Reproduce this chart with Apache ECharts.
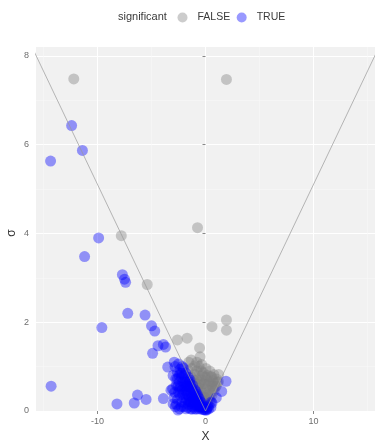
<!DOCTYPE html>
<html>
<head>
<meta charset="utf-8">
<script src="https://cdn.jsdelivr.net/npm/echarts@6/dist/echarts.min.js"></script>
<style>
html,body{margin:0;padding:0;background:#fff;}
#chart{width:375px;height:444px;}
</style>
</head>
<body>
<div id="chart"></div>
<script>
// ---- data ----
const categories = ['FALSE', 'TRUE'];
const xTicks = [-10, 0, 10];
const xMinorTicks = [-15, -5, 5, 15];
const yTicks = [0, 2, 4, 6, 8];
const yMinorTicks = [1, 3, 5, 7];
const threshold = 1.96;

// FALSE (not significant) points: [X, sigma]
const falsePoints = [
  [-12.2,7.48],[1.94,7.47],[-0.74,4.13],[-7.8,3.95],[-5.4,2.85],
  [-2.6,1.6],[-1.7,1.64],[0.6,1.9],[1.94,2.05],[1.94,1.82],[-0.55,1.42],[-0.5,1.22],
  [-1.6,0.92],[-1.55,1.1],
  [-1.3,0.76],[-1.28,0.96],[-1.32,1.15],
  [-1.0,0.62],[-1.02,0.82],[-0.98,1.02],
  [-0.8,0.5],[-0.78,0.7],[-0.82,0.9],[-0.8,1.1],
  [-0.6,0.4],[-0.62,0.6],[-0.58,0.8],[-0.6,1.0],
  [-0.4,0.3],[-0.42,0.5],[-0.38,0.7],[-0.4,0.9],[-0.36,1.05],
  [-0.2,0.2],[-0.22,0.4],[-0.18,0.62],[-0.2,0.86],
  [0.0,0.1],[0.02,0.3],[-0.02,0.5],[0.0,0.76],[0.04,0.96],
  [0.2,0.16],[0.22,0.36],[0.18,0.56],[0.2,0.8],
  [0.4,0.26],[0.42,0.46],[0.38,0.66],[0.4,0.9],
  [0.6,0.36],[0.62,0.56],[0.58,0.76],
  [0.8,0.46],[0.82,0.62],[0.78,0.82],
  [1.0,0.56],[1.02,0.72],
  [1.2,0.66],[1.22,0.82],
  [-1.15,0.7],[-0.9,0.6],[-0.7,0.55],[-0.5,0.45],[-0.3,0.35],[-0.1,0.3],
  [0.1,0.25],[0.3,0.3],[0.5,0.4],[0.7,0.5],[0.9,0.55],[1.1,0.65],
  [-0.5,0.65],[-0.1,0.6],[0.3,0.6],[0.7,0.68],[-0.3,0.8],[0.1,0.7],[0.5,0.78]
];

// TRUE (significant) points: [X, sigma]
const truePoints = [
  [-12.4,6.43],[-11.4,5.87],[-14.35,5.63],[-9.9,3.9],[-11.2,3.48],
  [-7.7,3.07],[-7.5,2.97],[-7.4,2.9],[-9.6,1.88],[-7.2,2.2],
  [-5.6,2.16],[-5.0,1.92],[-4.7,1.8],[-4.4,1.47],[-3.9,1.5],[-3.7,1.44],
  [-4.9,1.3],[-3.5,0.99],[-2.9,1.1],[-14.3,0.56],[-8.2,0.16],[-6.6,0.18],
  [-6.3,0.36],[-5.5,0.26],[-3.9,0.28],[-3.2,0.47],
  [1.9,0.67],[1.5,0.44],[1.0,0.3],[0.6,0.18],
  [-3.0,0.16],[-3.05,0.5],[-3.0,0.8],
  [-2.8,0.1],[-2.85,0.42],[-2.75,0.72],[-2.82,1.0],
  [-2.6,0.26],[-2.55,0.56],[-2.62,0.88],[-2.5,1.06],
  [-2.4,0.05],[-2.38,0.36],[-2.42,0.66],[-2.35,0.94],
  [-2.2,0.2],[-2.18,0.47],[-2.22,0.76],[-2.15,1.0],
  [-2.0,0.1],[-1.98,0.3],[-2.02,0.56],[-1.96,0.8],[-2.05,0.97],
  [-1.8,0.05],[-1.78,0.26],[-1.82,0.46],[-1.76,0.66],[-1.84,0.86],
  [-1.6,0.15],[-1.62,0.36],[-1.58,0.56],[-1.6,0.76],
  [-1.4,0.05],[-1.42,0.21],[-1.38,0.41],[-1.4,0.6],[-1.44,0.7],
  [-1.2,0.1],[-1.22,0.3],[-1.18,0.45],[-1.2,0.58],
  [-1.0,0.05],[-1.02,0.2],[-0.98,0.35],[-1.0,0.48],
  [-0.8,0.1],[-0.82,0.25],[-0.78,0.38],
  [-0.6,0.05],[-0.62,0.16],[-0.58,0.28],
  [-0.4,0.04],[-0.42,0.12],[-0.38,0.19],
  [-0.2,0.03],[-0.22,0.08],
  [0.1,0.02],[0.12,0.04],[0.3,0.05],[0.28,0.12],[0.5,0.08],[0.52,0.2],
  [-2.9,0.3],[-2.7,0.58],[-2.7,0.15],[-2.5,0.42],[-2.45,0.8],[-2.3,0.55],
  [-2.3,0.85],[-2.1,0.38],[-2.1,0.66],[-1.9,0.18],[-1.9,0.72],[-1.7,0.38],
  [-1.7,0.56],[-1.5,0.3],[-1.5,0.48],[-1.5,0.66],[-1.3,0.2],[-1.3,0.52],
  [-1.1,0.15],[-1.1,0.4],[-0.9,0.3],[-0.9,0.44],[-0.7,0.2],[-0.7,0.33],
  [-0.5,0.1],[-0.5,0.22],[-0.3,0.1],[-0.3,0.14],[-0.1,0.03],[0.0,0.02],
  [0.2,0.08],[-2.6,0.72],[-2.4,0.5],[-2.0,0.42],[-1.8,0.56],
  [-2.25,0.1],[-1.65,0.08],[-1.25,0.04],[-0.85,0.04],[-2.55,0.02],[-1.9,0.62],
  [-1.55,0.22],[-1.15,0.25],[-0.75,0.12],[-0.45,0.08],[-2.15,0.85]
];

const xMin = -15.7, xMax = 15.7, yMin = 0, yMax = 8.2;

// reference V line sigma = |X| / 1.96
const lineEnd = 17;
const vLine = [[-lineEnd, lineEnd/threshold],[0,0],[lineEnd, lineEnd/threshold]];

const chart = echarts.init(document.getElementById('chart'), null, {renderer:'canvas'});
const font = 'Liberation Sans, Arial, sans-serif';
const tickColor = '#6e6e6e';

chart.setOption({
  animation: false,
  backgroundColor: '#ffffff',
  textStyle: {fontFamily: font},
  graphic: [{
    type: 'text', left: 118, top: 11,
    style: {text: 'significant', fontSize: 11, fill: '#3a3a3a', fontFamily: font}
  }, {
    type: 'text', x: 12, y: 233, rotation: Math.PI / 2,
    style: {text: 'σ', fontSize: 12, fill: '#333', fontFamily: font, align: 'center', verticalAlign: 'middle'}
  }],
  legend: {
    data: categories,
    left: 177.5, top: 12, padding: 0,
    icon: 'circle',
    itemWidth: 20, itemHeight: 10, itemGap: 6.5,
    textStyle: {fontSize: 10.5, color: '#3a3a3a', fontFamily: font}
  },
  grid: [{
    left: 36, right: 0, top: 47, bottom: 33,
    containLabel: false, outerBoundsMode: 'none',
    show: true, backgroundColor: '#f1f1f1', borderWidth: 0
  }],
  xAxis: [{
    type: 'value', min: xMin, max: xMax,
    name: 'X', nameLocation: 'middle', nameGap: 20,
    nameTextStyle: {fontSize: 12, color: '#333', fontFamily: font},
    axisLine: {show: false},
    axisTick: {show: true, length: 3, lineStyle: {color: '#888'}, customValues: xTicks},
    axisLabel: {fontSize: 9, color: tickColor, margin: 6, customValues: xTicks},
    splitLine: {show: true, lineStyle: {color: '#ffffff', width: 1}}
  }, {
    type: 'value', min: xMin, max: xMax, position: 'bottom',
    axisLine: {show: false}, axisLabel: {show: false},
    axisTick: {show: false, customValues: xMinorTicks},
    splitLine: {show: true, lineStyle: {color: '#f8f8f8', width: 0.6}}
  }],
  yAxis: [{
    type: 'value', min: yMin, max: yMax,
    axisLine: {show: false},
    axisTick: {show: true, length: 3, lineStyle: {color: '#888'}, customValues: yTicks},
    axisLabel: {fontSize: 9, color: tickColor, margin: 7, customValues: yTicks},
    splitLine: {show: true, lineStyle: {color: '#ffffff', width: 1}}
  }, {
    type: 'value', min: yMin, max: yMax, position: 'left',
    axisLine: {show: false}, axisLabel: {show: false},
    axisTick: {show: false, customValues: yMinorTicks},
    splitLine: {show: true, lineStyle: {color: '#f8f8f8', width: 0.6}}
  }],
  series: [{
    name: 'FALSE', type: 'scatter', data: falsePoints,
    symbolSize: 11,
    itemStyle: {color: '#7f7f7f', opacity: 0.4},
    emphasis: {disabled: true}, z: 2
  }, {
    name: 'TRUE', type: 'scatter', data: truePoints,
    symbolSize: 11,
    itemStyle: {color: '#0000ff', opacity: 0.4},
    emphasis: {disabled: true}, z: 3
  }, {
    name: 'threshold', type: 'line', data: vLine,
    symbol: 'none', clip: true, silent: true,
    lineStyle: {color: '#999999', width: 0.7},
    z: 4
  }]
});
</script>
</body>
</html>
